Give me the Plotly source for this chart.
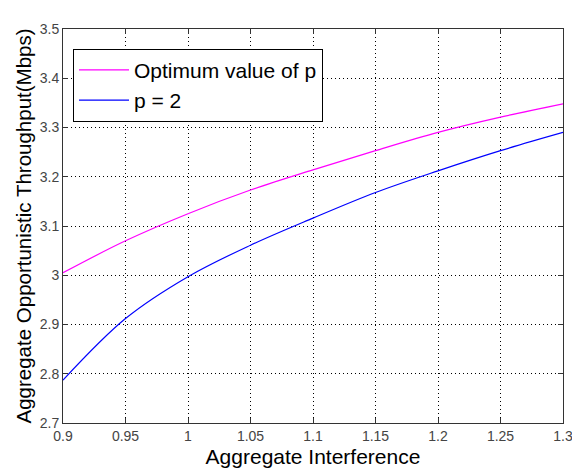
import plotly.graph_objects as go

x_vals = [0.9, 0.95, 1.0, 1.05, 1.1, 1.15, 1.2, 1.25, 1.3]
opt_p = [3.005, 3.070, 3.125, 3.173, 3.214, 3.253, 3.290, 3.321, 3.348]
p_two = [2.787, 2.912, 2.997, 3.061, 3.116, 3.168, 3.212, 3.253, 3.290]

series_names = ["Optimum value of p", "p = 2"]
x_ticks = [0.9, 0.95, 1.0, 1.05, 1.1, 1.15, 1.2, 1.25, 1.3]
x_tick_text = ["0.9", "0.95", "1", "1.05", "1.1", "1.15", "1.2", "1.25", "1.3"]
y_ticks = [2.7, 2.8, 2.9, 3.0, 3.1, 3.2, 3.3, 3.4, 3.5]
y_tick_text = ["2.7", "2.8", "2.9", "3", "3.1", "3.2", "3.3", "3.4", "3.5"]

FONT = "Liberation Sans, Arial, Helvetica, sans-serif"

fig = go.Figure()
fig.add_trace(go.Scatter(x=x_vals, y=opt_p, mode="lines", name=series_names[0],
                         line=dict(color="#ff00ff", width=1.2, shape="spline")))
fig.add_trace(go.Scatter(x=x_vals, y=p_two, mode="lines", name=series_names[1],
                         line=dict(color="#0000ff", width=1.2, shape="spline")))

axis_common = dict(
    showline=True, linecolor="#333333", linewidth=1, mirror="ticks",
    ticks="inside", ticklen=5, tickcolor="#333333", tickwidth=1,
    showgrid=True, gridcolor="#000000", gridwidth=1, griddash="1px,3px",
    zeroline=False, tickfont=dict(family=FONT, size=14, color="#444444"),
    ticklabeloverflow="allow",
)

fig.update_xaxes(range=[0.9, 1.3], tickvals=x_ticks, ticktext=x_tick_text,
                 title=dict(text="Aggregate Interference", font=dict(family=FONT, size=21, color="#000000"), standoff=6),
                 **axis_common)
fig.update_yaxes(range=[2.7, 3.5], tickvals=y_ticks, ticktext=y_tick_text,
                 title=dict(text="Aggregate Opportunistic Throughput(Mbps)", font=dict(family=FONT, size=20.5, color="#000000"), standoff=2),
                 **axis_common)

fig.update_layout(
    width=572, height=470,
    margin=dict(l=63, r=9, t=29, b=47, autoexpand=False),
    paper_bgcolor="white", plot_bgcolor="white",
    font=dict(family=FONT),
    showlegend=True,
    legend=dict(x=0.02, y=0.95, xanchor="left", yanchor="top",
                bgcolor="white", bordercolor="#000000", borderwidth=1,
                font=dict(family=FONT, size=21, color="#000000"),
                itemwidth=50, tracegroupgap=0),
)

fig.write_html("out.html")
